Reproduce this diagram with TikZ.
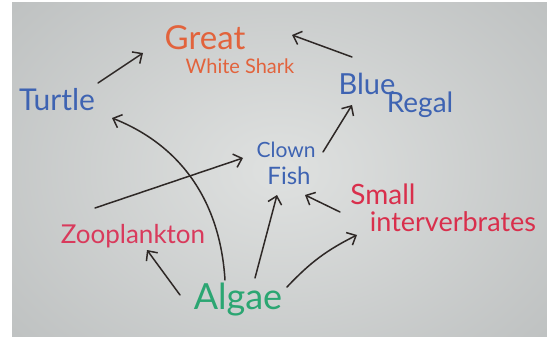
\documentclass[tikz,border=0pt]{standalone}
\usepackage{fontspec}
\setmainfont{Lato}
\usetikzlibrary{arrows.meta,calc}
\definecolor{boardin}{HTML}{DFE1E0}
\definecolor{boardedge}{HTML}{BCBFBF}
\definecolor{ink}{HTML}{2E2826}
\definecolor{sharkc}{HTML}{E2633C}
\definecolor{bluec}{HTML}{3E63B2}
\definecolor{redc}{HTML}{D92F4C}
\definecolor{zooc}{HTML}{D93A5C}
\definecolor{greenc}{HTML}{2BA672}
\tikzset{
  x=1pt, y=-1pt,
  lbl/.style={inner sep=0pt, font=#1},
  feeds/.style={draw=ink, line width=1.5pt, line cap=round,
    -{Straight Barb[length=7.5pt,width=14pt,line width=1.5pt]}},
}
\begin{document}
\begin{tikzpicture}
\useasboundingbox (0,0) rectangle (547,337);
\fill[white] (0,0) rectangle (547,337);
\begin{scope}
\clip (12,3) rectangle (547,337);
\fill[boardedge] (12,3) rectangle (547,337);
\shade[inner color=boardin, outer color=boardedge] (280,170) ellipse (380 and 280);
\end{scope}
% labels
\node[lbl=\fontsize{33}{33}\selectfont, text=sharkc] (great) at (205,38) {Great};
\node[lbl=\fontsize{20}{20}\selectfont, text=sharkc] (shark) at (240,66) {White Shark};
\node[lbl=\fontsize{30}{30}\selectfont, text=bluec] (turtle) at (57,100) {Turtle};
\node[lbl=\fontsize{29}{29}\selectfont, text=bluec] (blue) at (367,84) {Blue};
\node[lbl=\fontsize{28}{28}\selectfont, text=bluec] (regal) at (420,105) {Regal};
\node[lbl=\fontsize{21}{21}\selectfont, text=bluec] (clown) at (286,150) {Clown};
\node[lbl=\fontsize{24}{24}\selectfont, text=bluec] (fish) at (289,176) {Fish};
\node[lbl=\fontsize{28}{28}\selectfont, text=redc] (small) at (383,194) {Small};
\node[lbl=\fontsize{27}{27}\selectfont, text=redc] (inverts) at (453,222) {interverbrates};
\node[lbl=\fontsize{26}{26}\selectfont, text=zooc] (zoo) at (133,236) {Zooplankton};
\node[lbl=\fontsize{36}{36}\selectfont, text=greenc] (algae) at (238,300) {Algae};
% connectors
\draw[feeds] ([shift={(41,-17)}]turtle.center) -- ([shift={(-62,15)}]great.center);
\draw[feeds] ([shift={(-15,-27)}]blue.center) -- ([shift={(52,-31)}]shark.center);
\draw[feeds] ([shift={(37,2)}]clown.center) -- ([shift={(-15,21)}]blue.center);
\draw[feeds] ([shift={(-38,-28)}]zoo.center) -- ([shift={(-43,8)}]clown.center);
\draw[feeds] ([shift={(-13,-20)}]algae.center) .. controls (220,200) and (180,145) .. ([shift={(55,18)}]turtle.center);
\draw[feeds] ([shift={(-58,-5)}]algae.center) -- ([shift={(14,14)}]zoo.center);
\draw[feeds] ([shift={(17,-22)}]algae.center) -- ([shift={(-12,19)}]fish.center);
\draw[feeds] ([shift={(-43,18)}]small.center) -- ([shift={(16,19)}]fish.center);
\draw[feeds] ([shift={(49,-13)}]algae.center) to[bend left=10] ([shift={(-96,13)}]inverts.center);
\end{tikzpicture}
\end{document}
